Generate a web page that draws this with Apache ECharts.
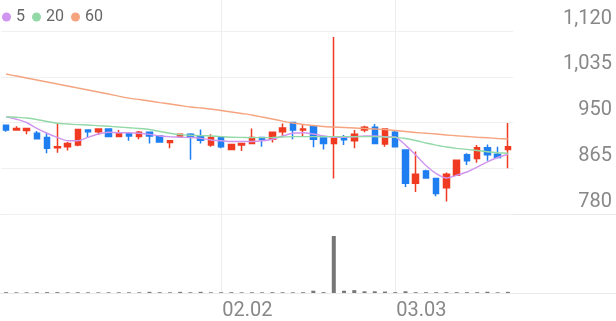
<!DOCTYPE html>
<html><head><meta charset="utf-8">
<script src="https://cdn.jsdelivr.net/npm/echarts@6/dist/echarts.min.js"></script>
<style>html,body{margin:0;padding:0;background:#fff}#c{width:616px;height:321px}</style>
</head><body><div id="c"></div>
<script>
// ---- data ----
const dates = ['01.02','01.05','01.06','01.07','01.08','01.09','01.12','01.13','01.14','01.15',
  '01.16','01.19','01.20','01.21','01.22','01.23','01.26','01.27','01.28','01.29',
  '01.30','02.02','02.03','02.04','02.05','02.06','02.09','02.10','02.11','02.12',
  '02.13','02.19','02.20','02.23','02.24','02.25','02.26','02.27','03.03','03.04',
  '03.05','03.06','03.09','03.10','03.11','03.12','03.13','03.16','03.17','03.18'];
// [open, close, low, high]
const ohlc = [
  [945,936,933,946],[936,939,935,943],[935,939,928,940],[930,920,920,934],[922,902,893,931],
  [903,905,894,948],[905,911,898,914],[908,937,906,938],[936,933,921,937],[933,938,927,939],
  [938,924,923,939],[924,929,923,936],[929,925,916,930],[924,932,919,934],[932,925,911,933],
  [925,914,913,926],[913,916,902,917],[925,928,924,929],[928,924,881,930],[925,917,911,937],
  [908,922,905,928],[922,905,902,923],[900,909,899,910],[908,911,897,912],[911,922,911,939],
  [922,919,905,923],[919,932,913,933],[933,940,923,948],[950,936,919,951],[936,938,923,947],
  [944,919,904,945],[921,911,900,922],[911,920,846,1109],[921,918,908,927],[916,928,902,936],
  [936,941,932,944],[941,911,911,947],[910,938,905,939],[932,905,905,936],[899,837,830,899],
  [837,854,821,896],[860,847,846,862],[846,818,813,847],[829,854,803,857],[852,880,851,881],
  [890,879,871,893],[883,903,875,908],[903,890,879,909],[891,885,884,905],[900,905,865,949]
];
const ma5 = [961,956,950,939,930,922.5,916,916,922.5,928.6,
  932,931,931,930,928,925,923.6,922.5,922,920.6,
  917.5,916,914.7,914.7,914.7,916,918.8,925,930,931,
  928.6,925,922.5,922.5,923.6,925,925,923.6,923,908,
  889.6,870,855,847,852,858,867,877,885,891];
const ma20 = [960.8,959.7,958.4,955.6,951.9,948.5,947.2,946,945.4,944,
  943,941.6,940.3,938.9,937,933.3,930,927.4,926.3,925.6,
  925,923.8,922.6,922.3,921.9,921.9,922.3,923,923.8,923.8,
  923.8,923.8,923.8,923.8,923.8,923.8,923.8,923,922.3,920.3,
  916.6,912,908,904.5,902,900,898,895.6,893.9,892.8];
const ma60 = [1040,1036.4,1032.7,1029,1025.3,1021.5,1017.8,1014,1010.4,1006.7,
  1002.9,999,995.3,992.7,990,987,984.4,981.6,978.8,977,
  975,972.3,969.5,966.7,964,960.2,956.5,952.6,949,946.2,
  944.4,942.6,941.6,940.7,939.8,938.9,937.9,937,935.1,933.3,
  931.4,930,928.6,926.8,925.3,924,922.7,921.6,920.3,919.3];
const volume = [14,12,12,13,15,15,12,13,12,11,
  12,12,12,12,20,14,12,20,13,20,
  12,13,14,12,13,12,14,13,12,14,
  40,15,1000,40,50,30,30,25,15,30,
  14,14,14,14,14,14,14,22,12,20];
const yTicks = [780, 865, 950, 1035, 1120];
const monthLabels = ['02.02', '03.03'];
const maNames = ['5', '20', '60'];

// ---- styles ----
const UP = '#f03a22', DOWN = '#1f7ef0';
const MA_COLORS = ['#d095ee', '#93d9a7', '#f6a47f'];
const FONT = 'Roboto';

const chart = echarts.init(document.getElementById('c'), null, {renderer: 'canvas'});
const isMonth = (i, v) => monthLabels.indexOf(v) >= 0;

chart.setOption({
  animation: false,
  backgroundColor: '#fff',
  legend: {
    data: maNames, left: 2, top: 9, padding: 0, icon: 'circle', itemWidth: 9, itemHeight: 9, itemGap: 7,
    textStyle: {fontSize: 16, color: '#666', fontFamily: FONT}
  },
  grid: [
    {left: 1, right: 103, top: 31, height: 183},
    {left: 6.12, right: 108.12, top: 0, height: 293}
  ],
  xAxis: [
    {type: 'category', gridIndex: 0, data: dates, boundaryGap: true,
     axisLine: {show: false}, axisTick: {show: false}, axisLabel: {show: false}, splitLine: {show: false}},
    {type: 'category', gridIndex: 1, data: dates, boundaryGap: false,
     axisLine: {show: false}, axisTick: {show: false},
     axisLabel: {interval: isMonth, align: 'left', margin: 8, fontSize: 20, color: '#888', fontFamily: FONT, padding: [0,0,0,1]},
     splitLine: {show: true, interval: isMonth, lineStyle: {color: '#ececec', width: 1}}}
  ],
  yAxis: [
    {type: 'value', gridIndex: 0, position: 'right', min: yTicks[0], max: yTicks[yTicks.length-1],
     interval: yTicks[1]-yTicks[0],
     axisLine: {show: false}, axisTick: {show: false},
     axisLabel: {align: 'right', margin: 99, fontSize: 20, color: '#888', fontFamily: FONT,
       verticalAlign: 'bottom', lineHeight: 25,
       formatter: v => v.toLocaleString('en-US')},
     splitLine: {show: true, lineStyle: {color: '#f0f0f0', width: 1}}},
    {type: 'value', gridIndex: 1, min: 0, max: 5140, show: false, splitLine: {show: false}}
  ],
  graphic: [
    {type: 'line', shape: {x1: 0, y1: 214.5, x2: 616, y2: 214.5}, style: {stroke: '#eaeaea', lineWidth: 1}, silent: true},
    {type: 'line', shape: {x1: 0, y1: 293.5, x2: 616, y2: 293.5}, style: {stroke: '#eaeaea', lineWidth: 1}, silent: true}
  ],
  series: [
    {name: '5', type: 'line', data: ma5, xAxisIndex: 0, yAxisIndex: 0, showSymbol: false, smooth: 0.2,
     itemStyle: {color: MA_COLORS[0]}, lineStyle: {color: MA_COLORS[0], width: 1.4}},
    {name: '20', type: 'line', data: ma20, xAxisIndex: 0, yAxisIndex: 0, showSymbol: false, smooth: 0.2,
     itemStyle: {color: MA_COLORS[1]}, lineStyle: {color: MA_COLORS[1], width: 1.4}},
    {name: '60', type: 'line', data: ma60, xAxisIndex: 0, yAxisIndex: 0, showSymbol: false, smooth: 0.2,
     itemStyle: {color: MA_COLORS[2]}, lineStyle: {color: MA_COLORS[2], width: 1.4}},
    {name: 'price', type: 'candlestick', data: ohlc, xAxisIndex: 0, yAxisIndex: 0, barWidth: 6,
     itemStyle: {color: UP, color0: DOWN, borderColor: UP, borderColor0: DOWN, borderWidth: 1.5}},
    {name: 'volume', type: 'bar', data: volume, xAxisIndex: 1, yAxisIndex: 1, barWidth: 4,
     itemStyle: {color: '#777'}}
  ]
});
</script>
</body></html>
